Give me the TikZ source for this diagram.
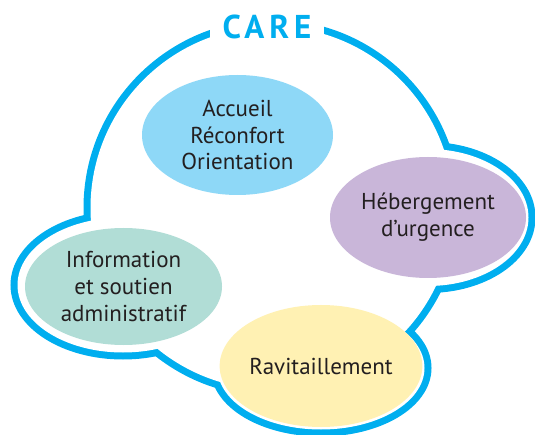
\documentclass[tikz,border=0pt]{standalone}
\usepackage{fontspec}
\setmainfont{PT Sans}
\usetikzlibrary{shapes.geometric}
\definecolor{careblue}{HTML}{00AEEF}
\definecolor{accueilc}{HTML}{8ED8F7}
\definecolor{hebergc}{HTML}{C9B6D9}
\definecolor{infoc}{HTML}{B1DDD6}
\definecolor{ravitc}{HTML}{FFF1B3}
\definecolor{textc}{HTML}{231F20}
\tikzset{
  bubble/.style={ellipse, draw=none, inner sep=0pt, align=center, text=textc,
    font=\fontsize{23}{26.8}\selectfont},
  outline/.style={line width=14pt, draw=careblue},
  blank/.style={fill=white, draw=none}
}
\begin{document}
\begin{tikzpicture}[x=1pt,y=-1pt]
\useasboundingbox (0,0) rectangle (535,435);
% blue outline of the union of the shapes
\draw[outline] (272,208) circle[radius=181.5pt];
\draw[outline] (123,285) ellipse[x radius=105.5pt, y radius=67.5pt];
\draw[outline] (428,217.5) ellipse[x radius=100.5pt, y radius=68.5pt];
\draw[outline] (321,368) ellipse[x radius=103.5pt, y radius=61.5pt];
% white interior
\fill[blank] (272,208) circle[radius=181.5pt];
\fill[blank] (123,285) ellipse[x radius=105.5pt, y radius=67.5pt];
\fill[blank] (428,217.5) ellipse[x radius=100.5pt, y radius=68.5pt];
\fill[blank] (321,368) ellipse[x radius=103.5pt, y radius=61.5pt];
% title
\node[fill=white, inner sep=0pt, minimum width=114pt, minimum height=34pt,
  text=careblue, font=\fontsize{33}{33}\bfseries\addfontfeatures{LetterSpace=15}\selectfont]
  (care) at (267,27) {CARE};
% coloured bubbles
\node[bubble, fill=accueilc, minimum width=191pt, minimum height=120pt]
  (accueil) at (237.5,135) {Accueil\\Réconfort\\Orientation};
\node[bubble, fill=hebergc, minimum width=196pt, minimum height=121pt]
  (heberg) at (428,217.5) {Hébergement\\d’urgence};
\node[bubble, fill=infoc, minimum width=197pt, minimum height=117pt]
  (info) at (123.5,286.5) {Information\\et soutien\\administratif};
\node[bubble, fill=ravitc, minimum width=196pt, minimum height=122pt]
  (ravit) at (321,366) {Ravitaillement};
\end{tikzpicture}
\end{document}
